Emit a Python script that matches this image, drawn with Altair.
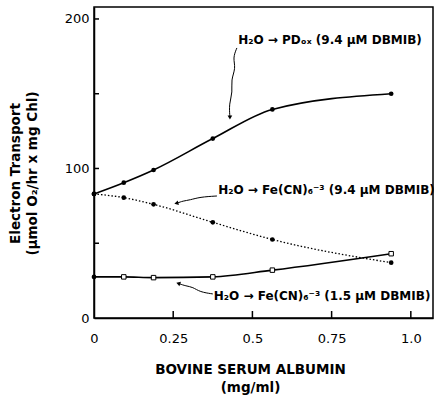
import altair as alt
import pandas as pd

# --- data ---
bsa = [0, 0.094, 0.188, 0.375, 0.563, 0.938]          # mg/ml
rate_pd = [83, 90.5, 99, 120, 139.5, 150]               # H2O -> PDox (9.4 uM DBMIB)
rate_fe94 = [83, 80.5, 76, 64, 52.5, 37]                # H2O -> Fe(CN)6 (9.4 uM DBMIB)
rate_fe15 = [27.5, 27.5, 27, 27.5, 32, 43]              # H2O -> Fe(CN)6 (1.5 uM DBMIB)

x_ticks = [0.25, 0.5, 0.75, 1.0]
y_ticks = [50, 100, 150, 200]

labels = ["H₂O → PDₒₓ  (9.4 µM DBMIB)",
          "H₂O → Fe(CN)₆⁻³ (9.4 µM DBMIB)",
          "H₂O → Fe(CN)₆⁻³ (1.5 µM DBMIB)"]
label_x = [0.455, 0.392, 0.378]
label_y = [186, 85.5, 14.5]

# annotation leader paths (data units)
arrow_pd_x = [0.451, 0.438, 0.448, 0.432, 0.438, 0.426, 0.429]
arrow_pd_y = [180.6, 173.9, 167.2, 159.2, 151.2, 143.1, 134.5]
arrow_f94_x = [0.388, 0.334, 0.303, 0.281, 0.262]
arrow_f94_y = [81.6, 80.9, 78.9, 78.3, 76.8]
arrow_f15_x = [0.375, 0.334, 0.312, 0.290, 0.268]
arrow_f15_y = [16.1, 17.4, 20.7, 21.4, 23.0]

FONT = "DejaVu Sans"

X = alt.Scale(domain=[0, 1.07], nice=False, zero=False)
Y = alt.Scale(domain=[0, 208], nice=False, zero=False)

df_pd = pd.DataFrame({"x": bsa, "y": rate_pd})
df_f94 = pd.DataFrame({"x": bsa, "y": rate_fe94})
df_f15 = pd.DataFrame({"x": bsa, "y": rate_fe15})

base_x_axis = alt.Axis(values=[0, 0.25, 0.5, 0.75, 1.0],
                       labelExpr="datum.value == 1 ? '1.0' : toString(datum.value)",
                       labelFlush=False,
                       title=["BOVINE SERUM ALBUMIN", "(mg/ml)"],
                       titlePadding=17, labelPadding=14, titleLineHeight=18, titleX=156)
base_y_axis = alt.Axis(values=[0, 100, 200], labelFlush=False,
                       title=["Electron Transport", "(µmol O₂/hr x mg Chl)"],
                       titlePadding=25, labelPadding=5, titleLineHeight=17, titleY=166)

def line(df, dash=None, width=1.6):
    kw = dict(color="black", strokeWidth=width, interpolate="monotone")
    if dash:
        kw["strokeDash"] = dash
    return alt.Chart(df).mark_line(**kw).encode(
        x=alt.X("x:Q", scale=X, axis=base_x_axis),
        y=alt.Y("y:Q", scale=Y, axis=base_y_axis))

def dots(df):
    return alt.Chart(df).mark_point(filled=True, color="black", size=22, opacity=1).encode(
        x=alt.X("x:Q", scale=X), y=alt.Y("y:Q", scale=Y))

squares = alt.Chart(df_f15).transform_filter("datum.x > 0").mark_point(
    shape="square", filled=True, fill="white", stroke="black", strokeWidth=1,
    size=20, opacity=1).encode(x=alt.X("x:Q", scale=X), y=alt.Y("y:Q", scale=Y))
dot15 = dots(df_f15).transform_filter("datum.x == 0")

xt = alt.Chart(pd.DataFrame({"v": x_ticks})).mark_rule(color="black", strokeWidth=1.5).encode(
    x=alt.X("v:Q", scale=X), y=alt.value(311), y2=alt.value(304))
yt = alt.Chart(pd.DataFrame({"v": y_ticks})).mark_rule(color="black", strokeWidth=1.5).encode(
    y=alt.Y("v:Q", scale=Y), x=alt.value(0), x2=alt.value(5))

txt = alt.Chart(pd.DataFrame({"t": labels, "x": label_x, "y": label_y})).mark_text(
    align="left", baseline="middle", font=FONT, fontSize=12, fontWeight="bold", color="black").encode(
    x=alt.X("x:Q", scale=X), y=alt.Y("y:Q", scale=Y), text="t:N")

def leader(xs, ys, angle):
    d = pd.DataFrame({"x": xs, "y": ys, "o": list(range(len(xs)))})
    ln = alt.Chart(d).mark_line(color="black", strokeWidth=1, interpolate="basis").encode(
        x=alt.X("x:Q", scale=X), y=alt.Y("y:Q", scale=Y), order="o:Q")
    head = alt.Chart(d).transform_filter(f"datum.o == {len(xs) - 1}").mark_point(
        shape="triangle", filled=True, color="black", size=22, angle=angle, opacity=1).encode(
        x=alt.X("x:Q", scale=X), y=alt.Y("y:Q", scale=Y))
    return ln + head

chart = alt.layer(
    line(df_pd), dots(df_pd),
    line(df_f94, dash=[1.5, 2], width=1.3), dots(df_f94),
    line(df_f15), squares, dot15,
    xt, yt, txt,
    leader(arrow_pd_x, arrow_pd_y, 180),
    leader(arrow_f94_x, arrow_f94_y, 255),
    leader(arrow_f15_x, arrow_f15_y, 290),
).properties(
    width=339, height=311,
    autosize=alt.AutoSizeParams(type="none"),
    padding={"left": 94, "top": 7, "right": 1, "bottom": 77},
    background="white",
).configure_view(stroke="black", strokeWidth=1.5).configure_axis(
    grid=False, ticks=False, domainColor="black", domainWidth=1.5,
    labelFont=FONT, labelFontSize=13, labelColor="black",
    titleFont=FONT, titleFontSize=13.5, titleFontWeight="bold", titleColor="black",
)

chart.save("out.html", embed_options={"renderer": "svg", "actions": False})
